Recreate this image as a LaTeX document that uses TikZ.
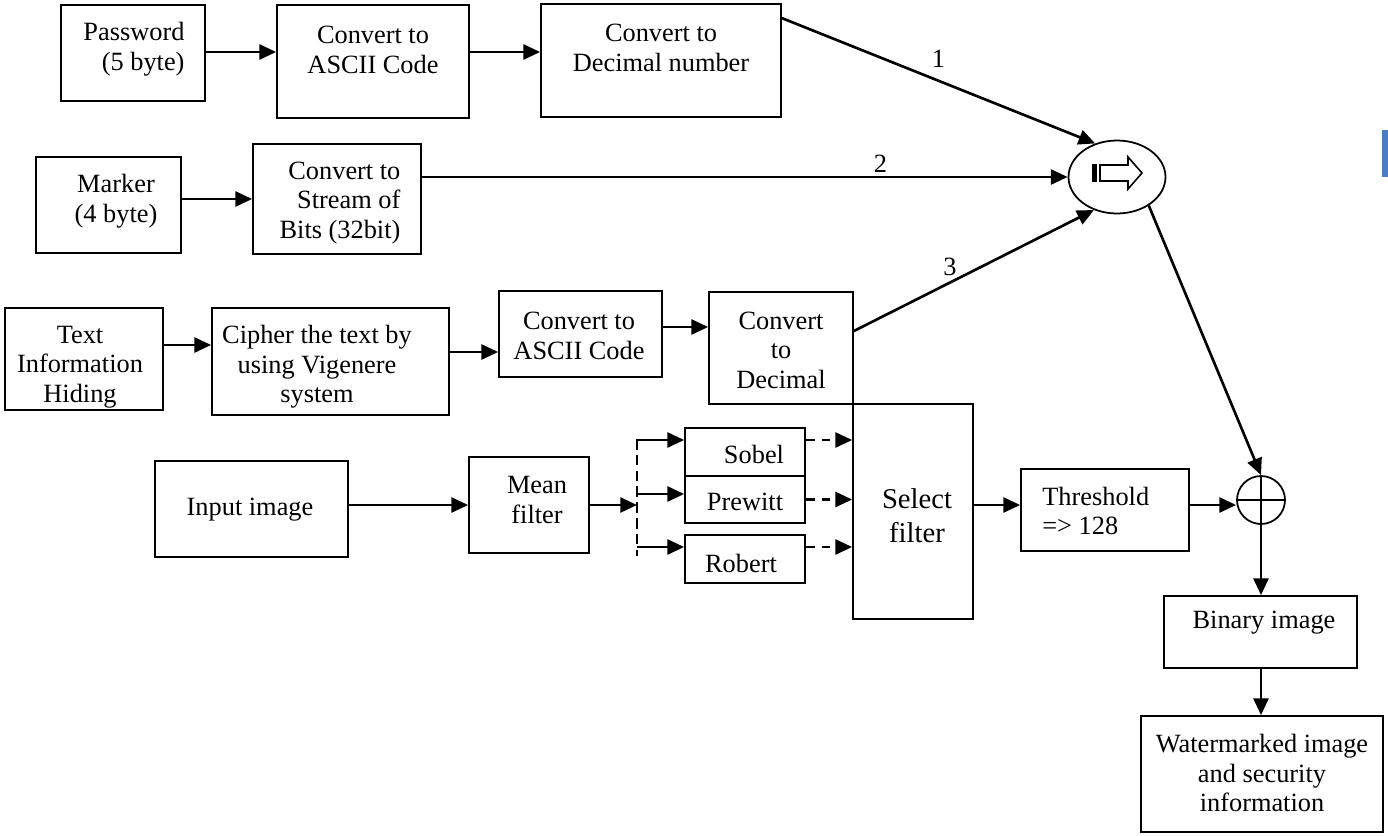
\documentclass[tikz,border=0pt]{standalone}
\usepackage{fontspec}
\setmainfont{Liberation Serif}
\usetikzlibrary{arrows.meta, shapes.geometric, fit, calc}
\definecolor{cursorblue}{RGB}{74,126,193}

\tikzset{
  blk/.style={draw, line width=1pt, inner sep=0pt},
  txt/.style={align=center, inner sep=0pt, font=\fontsize{15}{16.8}\selectfont},
  arr/.style={-{Triangle[length=9.5pt,width=8.5pt]}, line width=1.5pt},
  darr/.style={arr, dash pattern=on 5pt off 4pt},
}

\begin{document}
\begin{tikzpicture}[x=0.02cm, y=-0.02cm]
\useasboundingbox (0,0) rectangle (1388,835);

% rows used by the straight arrows
\coordinate (r1) at (0,52);
\coordinate (r2) at (0,199);
\coordinate (r4) at (0,345);
\coordinate (r5) at (0,352);
\coordinate (r6) at (0,327);

% password branch
\node[blk, fit={(61,5) (205,101)}] (pw) {};
\node[txt, align=right] (pwt) at (134,49) {Password\\(5 byte)};
\node[blk, fit={(277,5) (469,118)}] (asc1) {};
\node[txt] (asc1t) at (373,50) {Convert to\\ASCII Code};
\node[blk, fit={(541,4) (781,117)}] (dec1) {};
\node[txt] (dec1t) at (661,48) {Convert to\\Decimal number};

% marker branch
\node[blk, fit={(36,157) (181,253)}] (mk) {};
\node[txt] (mkt) at (116,201) {Marker\\(4 byte)};
\node[blk, fit={(253,144) (421,254)}] (st) {};
\node[txt, align=right] (stt) at (340,203) {Convert to\\Stream of\\Bits (32bit)};

% text branch
\node[blk, fit={(5,308) (163,410)}] (ti) {};
\node[txt] (tit) at (80,367) {Text\\Information\\Hiding};
\node[blk, fit={(212,308) (449,415)}] (ci) {};
\node[txt] (cit) at (317,367) {Cipher the text by\\using Vigenere\\system};
\node[blk, fit={(499,291) (662,377)}] (asc2) {};
\node[txt] (asc2t) at (579,336) {Convert to\\ASCII Code};
\node[blk, fit={(709,292) (853,404)}] (dec2) {};
\node[txt] (dec2t) at (781,350) {Convert\\to\\Decimal};

% image branch
\node[blk, fit={(155,461) (348,557)}] (inp) {};
\node[txt] (inpt) at (250,510) {Input image};
\node[blk, fit={(469,457) (589,553)}] (mn) {};
\node[txt] (mnt) at (537,500) {Mean\\filter};
\node[blk, fit={(685,428) (805,476)}] (sob) {};
\node[txt] (sobt) at (754,454) {Sobel};
\node[blk, fit={(685,476) (805,523)}] (pre) {};
\node[txt] (pret) at (745,502) {Prewitt};
\node[blk, fit={(685,535) (805,583)}] (rob) {};
\node[txt] (robt) at (741,563) {Robert};
\node[blk, fit={(853,404) (973,619)}] (sel) {};
\node[txt, font=\fontsize{16.3}{19.3}\selectfont] (selt) at (917,516) {Select\\filter};
\node[blk, fit={(1021,469) (1189,551)}] (th) {};
\node[txt, align=left, anchor=west] (tht) at (1042,511) {Threshold\\=> 128};

% combining
\node[draw, ellipse, line width=1pt, minimum width=1.94cm, minimum height=1.46cm] (mux) at (1117,177) {};
\fill (1092,164) rectangle (1097,182);
\draw[line width=0.9pt] (1100,165) -- (1128,165) -- (1128,157) -- (1142,173)
  -- (1128,189) -- (1128,181) -- (1100,181) -- cycle;
\node[draw, circle, line width=1pt, minimum size=0.96cm, inner sep=0pt] (ox) at (1261,500) {};
\draw[line width=1pt] (ox.north) -- (ox.south) (ox.west) -- (ox.east);
\node[blk, fit={(1164,596) (1357,668)}] (bin) {};
\node[txt] (bint) at (1264,623) {Binary image};
\node[blk, fit={(1141,716) (1383,832)}] (wm) {};
\node[txt] (wmt) at (1262,773) {Watermarked image\\and security\\information};

% arrows
\draw[arr] (pw.east |- r1) -- (asc1.west |- r1);
\draw[arr] (asc1.east |- r1) -- (dec1.west |- r1);
\draw[arr] (mk.east |- r2) -- (st.west |- r2);
\draw[arr] (ti.east |- r4) -- (ci.west |- r4);
\draw[arr] (ci.east |- r5) -- (asc2.west |- r5);
\draw[arr] (asc2.east |- r6) -- (dec2.west |- r6);

\draw[arr] ($(dec1.north east)+(0,15)$) -- (mux.123) node[txt, pos=0.5, above=7pt] (l1) {1};
\draw[arr] (st.east |- mux.west) -- (mux.west) node[txt, pos=0.71, above=2pt] (l2) {2};
\draw[arr] ($(dec2.east)+(0,-17)$) -- (mux.235) node[txt, pos=0.4, above=3pt] (l3) {3};

% filter bank
\coordinate (sp0) at (637,439);
\coordinate (sp1) at (637,440);
\coordinate (sp2) at (637,494);
\coordinate (spm) at (637,505);
\coordinate (sp3) at (637,547);
\coordinate (sp4) at (637,556);
\draw[line width=1pt, dash pattern=on 6pt off 3pt] (sp0) -- (sp4);
\draw[arr] (inp.east |- mn.east) -- (mn.west);
\draw[arr] (mn.east) -- (spm);
\draw[arr] (sp1) -- (sp1 -| sob.west);
\draw[arr] (sp2) -- (sp2 -| pre.west);
\draw[arr] (sp3) -- (sp3 -| rob.west);
\draw[darr] (sob.east |- sp1) -- (sel.west |- sp1);
\draw[darr] (pre.east) -- (pre.east -| sel.west);
\draw[darr] (rob.east |- sp3) -- (sel.west |- sp3);
\draw[arr] (sel.east |- spm) -- (th.west |- spm);
\draw[arr] (th.east |- spm) -- (ox.west |- spm);

\draw[arr] (mux.-42) -- (ox.north);
\draw[arr] (ox.south) -- (ox.south |- bin.north);
\draw[arr] (bin.south -| ox) -- (wm.north -| ox);

\fill[cursorblue] (1382,130) rectangle (1388,177);
\end{tikzpicture}
\end{document}
